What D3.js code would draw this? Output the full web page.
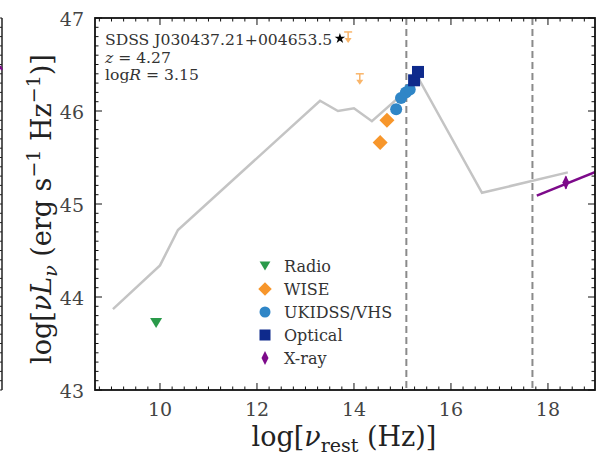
<!DOCTYPE html>
<html><head><meta charset="utf-8">
<script src="https://cdn.jsdelivr.net/npm/d3@7"></script>
<style>body{margin:0;background:#fff}svg{display:block}text{font-family:"DejaVu Serif",serif}</style>
</head><body>
<svg id="c" width="607" height="459"></svg>
<script>
// ---- data ----
const sedX = [9.03, 10.0, 10.37, 13.3, 13.67, 14.0, 14.37, 15.0, 15.3, 16.64, 18.41];
const sedY = [43.87, 44.34, 44.72, 46.11, 46.0, 46.03, 45.89, 46.18, 46.38, 45.12, 45.34];
const radioX = [9.92], radioY = [43.72];
const wiseX = [14.54, 14.68], wiseY = [45.66, 45.90];
const wiseLimX = [13.88, 14.12], wiseLimY = [46.85, 46.40];
const ukX = [14.87, 14.97, 15.07, 15.15], ukY = [46.02, 46.14, 46.20, 46.23];
const optX = [15.24, 15.32], optY = [46.33, 46.42];
const xrayLineX = [17.77, 19.0], xrayLineY = [45.09, 45.35];
const xrayX = [18.37], xrayY = [45.23];
const starX = [13.71], starY = [46.78];
const vLines = [15.08, 17.68];
const xTicks = [10, 12, 14, 16, 18];
const yTicks = [43, 44, 45, 46, 47];
const legendLabels = ["Radio", "WISE", "UKIDSS/VHS", "Optical", "X-ray"];
const legendColors = ["#2a9a4a", "#f7962b", "#2f86c7", "#0e2a8c", "#7d0a8a"];

const svg = d3.select("#c");
const L = 95, R = 595, T = 18, B = 390;
const x = d3.scaleLinear().domain([8.66, 18.97]).range([L, R]);
const y = d3.scaleLinear().domain([43, 47]).range([B, T]);

// neighbour panel fragment at left edge
svg.append("line").attr("x1", 2).attr("x2", 2).attr("y1", T).attr("y2", B).attr("stroke", "#222").attr("stroke-width", 1.5);
d3.range(43, 47.001, 0.1).forEach(v => {
  const major = Math.abs(v - Math.round(v)) < 1e-6;
  svg.append("line").attr("x1", 2).attr("x2", 2 - (major ? 6 : 3)).attr("y1", y(v)).attr("y2", y(v)).attr("stroke", "#222").attr("stroke-width", 1);
});
svg.append("line").attr("x1", 0).attr("x2", 2).attr("y1", 66).attr("y2", 70).attr("stroke", "#7d0a8a").attr("stroke-width", 2);

const g = svg.append("g");
svg.append("clipPath").attr("id", "pc").append("rect").attr("x", L).attr("y", T).attr("width", R - L).attr("height", B - T);
const pg = g.append("g").attr("clip-path", "url(#pc)");

// dashed vertical lines
vLines.forEach(v => pg.append("line").attr("x1", x(v)).attr("x2", x(v)).attr("y1", T).attr("y2", B)
  .attr("stroke", "#8a8a8a").attr("stroke-width", 2).attr("stroke-dasharray", "7,4"));

// SED template
const line = d3.line().x(d => x(d[0])).y(d => y(d[1]));
pg.append("path").datum(sedX.map((v, i) => [v, sedY[i]])).attr("d", line)
  .attr("fill", "none").attr("stroke", "#c4c4c4").attr("stroke-width", 2.5);

// x-ray line
pg.append("path").datum(xrayLineX.map((v, i) => [v, xrayLineY[i]])).attr("d", line)
  .attr("fill", "none").attr("stroke", "#7d0a8a").attr("stroke-width", 2.5);

function sym(type, size) { return d3.symbol().type(type).size(size)(); }
const thinDiamond = "M0,-7L3.5,0L0,7L-3.5,0Z";
const bigDiamond = "M0,-7.5L7.5,0L0,7.5L-7.5,0Z";
const triDown = "M-6,-5L6,-5L0,5Z";

// radio
radioX.forEach((v, i) => pg.append("path").attr("d", triDown).attr("transform", `translate(${x(v)},${y(radioY[i])})`).attr("fill", legendColors[0]));
// wise
wiseX.forEach((v, i) => pg.append("path").attr("d", bigDiamond).attr("transform", `translate(${x(v)},${y(wiseY[i])})`).attr("fill", legendColors[1]));
// wise upper limits
wiseLimX.forEach((v, i) => {
  const cx = x(v), cy = y(wiseLimY[i]);
  const gg = pg.append("g").attr("stroke", "#f9b56a").attr("fill", "#f9b56a").attr("stroke-width", 1.5);
  gg.append("line").attr("x1", cx - 4).attr("x2", cx + 4).attr("y1", cy).attr("y2", cy);
  gg.append("line").attr("x1", cx).attr("x2", cx).attr("y1", cy).attr("y2", cy + 8);
  gg.append("path").attr("d", `M${cx - 3.5},${cy + 6}L${cx + 3.5},${cy + 6}L${cx},${cy + 11}Z`).attr("stroke", "none");
});
// ukidss
ukX.forEach((v, i) => pg.append("circle").attr("cx", x(v)).attr("cy", y(ukY[i])).attr("r", 6).attr("fill", legendColors[2]));
// optical
optX.forEach((v, i) => pg.append("rect").attr("x", x(v) - 6).attr("y", y(optY[i]) - 6).attr("width", 12).attr("height", 12).attr("fill", legendColors[3]));
// xray marker
xrayX.forEach((v, i) => {
  pg.append("line").attr("x1", x(v)).attr("x2", x(v)).attr("y1", y(xrayY[i]) - 6).attr("y2", y(xrayY[i]) + 6).attr("stroke", legendColors[4]).attr("stroke-width", 2);
  pg.append("path").attr("d", thinDiamond).attr("transform", `translate(${x(v)},${y(xrayY[i])})`).attr("fill", legendColors[4]);
});
// star
starX.forEach((v, i) => pg.append("path").attr("d", sym(d3.symbolStar, 34)).attr("transform", `translate(${x(v)},${y(starY[i])})`).attr("fill", "#000"));

// frame and ticks
g.append("rect").attr("x", L).attr("y", T).attr("width", R - L).attr("height", B - T).attr("fill", "none").attr("stroke", "#111").attr("stroke-width", 1.8);
const tk = g.append("g").attr("stroke", "#111").attr("stroke-width", 1);
d3.range(8.75, 19.0, 0.25).forEach(v => {
  const major = Math.abs(v / 2 - Math.round(v / 2)) < 1e-6;
  const len = major ? 7 : 3.5;
  tk.append("line").attr("x1", x(v)).attr("x2", x(v)).attr("y1", B).attr("y2", B - len);
  tk.append("line").attr("x1", x(v)).attr("x2", x(v)).attr("y1", T).attr("y2", T + len);
});
d3.range(43, 47.001, 0.1).forEach(v => {
  const major = Math.abs(v - Math.round(v)) < 1e-6;
  const len = major ? 7 : 3.5;
  tk.append("line").attr("y1", y(v)).attr("y2", y(v)).attr("x1", L).attr("x2", L + len);
  tk.append("line").attr("y1", y(v)).attr("y2", y(v)).attr("x1", R).attr("x2", R - len);
});
xTicks.forEach(v => g.append("text").attr("x", x(v)).attr("y", 416).attr("text-anchor", "middle").attr("font-size", 19).attr("fill", "#444").text(v));
yTicks.forEach(v => g.append("text").attr("x", L - 11).attr("y", y(v) + 8).attr("text-anchor", "end").attr("font-size", 19).attr("fill", "#444").text(v));

// axis labels
const xl = svg.append("text").attr("x", 344).attr("y", 446).attr("text-anchor", "middle").attr("font-size", 27).attr("fill", "#222");
xl.append("tspan").text("log[");
xl.append("tspan").attr("font-style", "italic").text("ν");
xl.append("tspan").attr("font-size", 19).attr("dy", 6).text("rest");
xl.append("tspan").attr("dy", -6).text(" (Hz)]");

const yl = svg.append("text").attr("transform", "translate(51,209) rotate(-90)").attr("text-anchor", "middle").attr("font-size", 27).attr("fill", "#222");
yl.append("tspan").text("log[");
yl.append("tspan").attr("font-style", "italic").text("νL");
yl.append("tspan").attr("font-style", "italic").attr("font-size", 19).attr("dy", 6).text("ν");
yl.append("tspan").attr("dy", -6).text(" (erg s");
yl.append("tspan").attr("font-size", 19).attr("dy", -11).text("−1");
yl.append("tspan").attr("dy", 11).text(" Hz");
yl.append("tspan").attr("font-size", 19).attr("dy", -11).text("−1");
yl.append("tspan").attr("dy", 11).text(")]");

// annotation
const an = svg.append("g").attr("font-size", 15.6).attr("fill", "#333");
an.append("text").attr("x", 105).attr("y", 45).attr("fill", "#333").text("SDSS J030437.21+004653.5");
const t2 = an.append("text").attr("x", 105).attr("y", 63).attr("fill", "#333");
t2.append("tspan").attr("font-style", "italic").text("z");
t2.append("tspan").text(" = 4.27");
const t3 = an.append("text").attr("x", 105).attr("y", 80).attr("fill", "#333");
t3.append("tspan").text("log");
t3.append("tspan").attr("font-style", "italic").text("R");
t3.append("tspan").text(" = 3.15");

// legend
const lg = svg.append("g");
const shapes = [triDown, bigDiamond, null, null, thinDiamond];
legendLabels.forEach((lab, i) => {
  const ly = 266 + i * 23, lx = 265;
  if (i === 2) lg.append("circle").attr("cx", lx).attr("cy", ly).attr("r", 5.5).attr("fill", legendColors[i]);
  else if (i === 3) lg.append("rect").attr("x", lx - 5.5).attr("y", ly - 5.5).attr("width", 11).attr("height", 11).attr("fill", legendColors[i]);
  else lg.append("path").attr("d", shapes[i]).attr("transform", `translate(${lx},${ly}) scale(${i === 1 ? 0.9 : (i === 0 ? 0.9 : 1)})`).attr("fill", legendColors[i]);
  lg.append("text").attr("x", 284).attr("y", ly + 5.5).attr("font-size", 16).attr("fill", "#333").text(lab);
});
</script>
</body></html>
